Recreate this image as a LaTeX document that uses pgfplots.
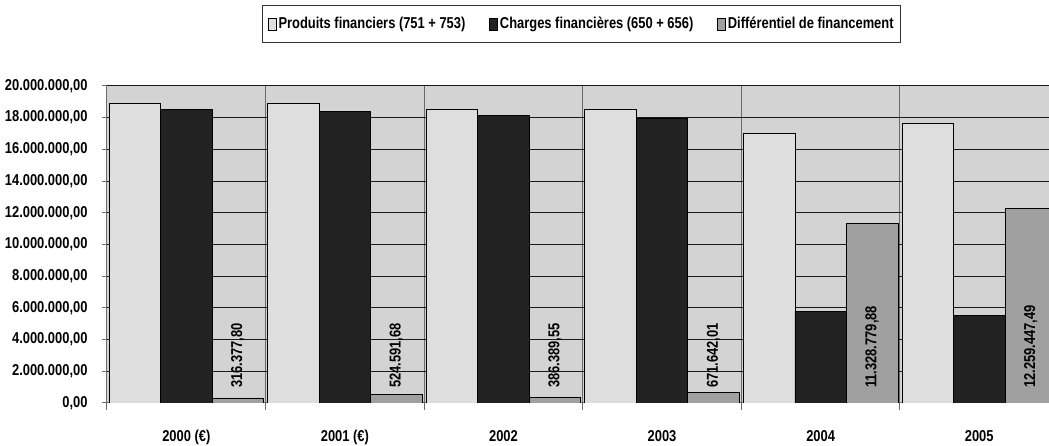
\documentclass[border=0pt]{standalone}
\usepackage{fontspec}
\setmainfont[FakeStretch=0.82]{Liberation Sans}
\usepackage{pgfplots}
\pgfplotsset{compat=1.18}

\definecolor{plotbg}{HTML}{D3D3D3}
\definecolor{prodcol}{HTML}{DEDEDE}
\definecolor{chargcol}{HTML}{222222}
\definecolor{diffcol}{HTML}{A0A0A0}
\definecolor{vgrid}{HTML}{6A6A6A}

\pgfplotsset{
  boxlegend/.style={legend image code/.code={
    \draw[#1, draw=black, line width=0.6bp] (0bp,-6bp) rectangle (8bp,6bp);}},
}
\newcommand{\lblfont}{\fontsize{15.8}{16}\selectfont\bfseries}

\begin{document}
\begin{tikzpicture}
\begin{axis}[
  scale only axis, width=942bp, height=317bp,
  xmin=-0.5, xmax=5.44, ymin=0, ymax=20000000,
  ybar, bar width=0.325,
  axis background/.style={fill=plotbg},
  axis x line*=bottom, axis y line*=left,
  axis line style={draw=vgrid, line width=1bp},
  xtick={0,1,2,3,4,5},
  xticklabels={2000 (€),2001 (€),2002,2003,2004,2005},
  major x tick style={draw=none},
  minor xtick={-0.5,0.5,1.5,2.5,3.5,4.5},
  minor x grid style={draw=vgrid, line width=1bp},
  xminorgrids=true,
  minor tick length=7bp,
  xticklabel style={yshift=-19bp},
  ytick={0,2000000,...,20000000},
  ymajorgrids=true,
  major y grid style={draw=black!90, line width=1bp},
  major tick length=5bp, tick align=outside,
  tick style={draw=vgrid, line width=1bp},
  scaled y ticks=false,
  yticklabel style={/pgf/number format/.cd, fixed, fixed zerofill, precision=2, 1000 sep={.}, use comma, /tikz/.cd, xshift=-11bp},
  /pgf/number format/assume math mode=true,
  tick label style={font=\lblfont},
  legend style={at={(0.504,1.256)}, anchor=north, legend columns=3,
    draw=black!80, line width=1bp, fill=white,
    font=\lblfont,
    /tikz/every even column/.append style={column sep=22bp},
    inner xsep=5bp, inner ysep=10bp},
  legend cell align=left,
]
\addplot[boxlegend, fill=prodcol, draw=black, line width=0.75bp, bar shift=-0.325]
  coordinates {(0,18910000) (1,18910000) (2,18530000) (3,18520000) (4,17020000) (5,17650000)};
\addlegendentry{Produits financiers (751 + 753)}
\addplot[boxlegend, fill=chargcol, draw=black, line width=0.75bp, bar shift=0]
  coordinates {(0,18530000) (1,18400000) (2,18150000) (3,17960000) (4,5800000) (5,5550000)};
\addlegendentry{Charges financières (650 + 656)}
\addplot[boxlegend, fill=diffcol, draw=black, line width=0.75bp, bar shift=0.325]
  coordinates {(0,316377.80) (1,524591.68) (2,386389.55) (3,671642.01) (4,11328779.88) (5,12259447.49)};
\addlegendentry{Différentiel de financement}
\coordinate (bl) at (rel axis cs:0,0);
\coordinate (tr) at (rel axis cs:1,1);
\foreach \xx/\lab in {0.325/{316.377,80}, 1.325/{524.591,68}, 2.325/{386.389,55}, 3.325/{671.642,01}, 4.325/{11.328.779,88}, 5.325/{12.259.447,49}} {
  \edef\tmp{\noexpand\node[rotate=90, anchor=west, inner sep=0pt, font=\noexpand\lblfont] at ([yshift=15bp]axis cs:\xx,0) {\lab};}
  \tmp
}
\end{axis}
\pgfresetboundingbox
\path ([xshift=-107bp,yshift=-43bp]bl) rectangle ([yshift=86bp]tr);
\end{tikzpicture}
\end{document}
